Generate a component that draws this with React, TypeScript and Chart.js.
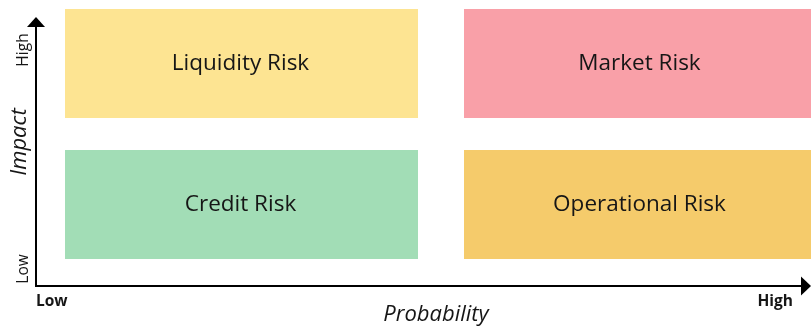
import React, { useEffect, useRef } from "react";
import { Chart, registerables } from "chart.js";

Chart.register(...registerables);

// Risk matrix: each risk sits in one probability/impact quadrant
const probabilityLevels = ["Low", "High"];
const impactLevels = ["Low", "High"];
const riskNames = ["Liquidity Risk", "Market Risk", "Credit Risk", "Operational Risk"];
const riskProbability = ["Low", "High", "Low", "High"];
const riskImpact = ["High", "High", "Low", "Low"];
const riskColors = ["#FDE492", "#F9A0A8", "#A2DDB6", "#F5CB6B"];

const TEXT = "#161616";
const FONT = '"Open Sans", "DejaVu Sans", sans-serif';

const quadrantDecor = {
  id: "quadrantDecor",
  afterDatasetsDraw(chart: any) {
    const { ctx, chartArea } = chart;
    ctx.save();

    // risk names centred in their boxes
    ctx.fillStyle = TEXT;
    ctx.font = `22.5px ${FONT}`;
    ctx.textAlign = "center";
    ctx.textBaseline = "alphabetic";
    chart.data.datasets.forEach((ds: any, i: number) => {
      const bar = chart.getDatasetMeta(i).data[0];
      if (!bar) return;
      const { x, y, base } = bar.getProps(["x", "y", "base"], true);
      ctx.fillText(ds.label, x - 1, (y + base) / 2 + 6);
    });

    // axes with arrow heads
    const ox = chartArea.left - 6;
    const oy = chartArea.bottom + 11;
    const topY = chartArea.top + 24;
    const rightX = chartArea.right - 29;

    ctx.strokeStyle = "#000";
    ctx.fillStyle = "#000";
    ctx.lineWidth = 2;
    ctx.beginPath();
    ctx.moveTo(ox, oy + 1);
    ctx.lineTo(ox, topY + 8);
    ctx.moveTo(ox - 1, oy);
    ctx.lineTo(rightX - 8, oy);
    ctx.stroke();

    ctx.beginPath();
    ctx.moveTo(ox, topY);
    ctx.lineTo(ox - 9, topY + 10);
    ctx.lineTo(ox + 9, topY + 10);
    ctx.closePath();
    ctx.fill();

    ctx.beginPath();
    ctx.moveTo(rightX, oy);
    ctx.lineTo(rightX - 10, oy - 9.5);
    ctx.lineTo(rightX - 10, oy + 9.5);
    ctx.closePath();
    ctx.fill();

    // probability ticks
    ctx.fillStyle = TEXT;
    ctx.font = `bold 15.5px ${FONT}`;
    ctx.textBaseline = "middle";
    ctx.textAlign = "left";
    ctx.fillText(probabilityLevels[0], ox, oy + 15.5);
    ctx.textAlign = "right";
    ctx.fillText(probabilityLevels[1], rightX - 18, oy + 15.5);

    // probability title
    ctx.font = `italic 22px ${FONT}`;
    ctx.textAlign = "center";
    ctx.fillText("Probability", (chartArea.left + chartArea.right) / 2 - 5, oy + 29);

    // impact ticks and title, rotated
    const rotated = (text: string, x: number, y: number, font: string) => {
      ctx.save();
      ctx.translate(x, y);
      ctx.rotate(-Math.PI / 2);
      ctx.font = font;
      ctx.textAlign = "center";
      ctx.textBaseline = "middle";
      ctx.fillText(text, 0, 0);
      ctx.restore();
    };
    rotated(impactLevels[1], ox - 12, topY + 33, `15.5px ${FONT}`);
    rotated(impactLevels[0], ox - 12, oy - 17, `15.5px ${FONT}`);
    rotated("Impact", ox - 16, topY + 125, `italic 22px ${FONT}`);

    ctx.restore();
  },
};

export default function App() {
  const canvasRef = useRef<HTMLCanvasElement>(null);

  useEffect(() => {
    if (!canvasRef.current) return;
    const datasets = riskNames.map((name, i) => {
      const level = impactLevels.indexOf(riskImpact[i]);
      return {
        label: name,
        data: [{ x: riskProbability[i], y: [level, level + 1] }],
        backgroundColor: riskColors[i],
        borderColor: "#ffffff",
        borderWidth: { top: 16, bottom: 16, left: 0, right: 0 },
        borderSkipped: false,
        grouped: false,
        barPercentage: 0.8847,
        categoryPercentage: 1,
      };
    });

    const chart = new Chart(canvasRef.current, {
      type: "bar",
      data: { labels: probabilityLevels, datasets } as any,
      options: {
        animation: false,
        responsive: false,
        devicePixelRatio: 1,
        layout: { padding: { left: 42, right: 20, top: 13, bottom: 54 } },
        scales: {
          x: { type: "category", display: false, offset: true },
          y: { type: "linear", display: false, min: 0, max: impactLevels.length },
        },
        plugins: {
          legend: { display: false },
          tooltip: { enabled: false },
        },
      } as any,
      plugins: [quadrantDecor],
    });
    return () => chart.destroy();
  }, []);

  return (
    <div
      style={{
        position: "absolute",
        left: 0,
        top: 0,
        width: 811,
        height: 329,
        overflow: "hidden",
        background: "#ffffff",
      }}
    >
      <canvas
        ref={canvasRef}
        width={860}
        height={349}
        style={{ position: "absolute", left: 0, top: -20, width: 860, height: 349 }}
      />
    </div>
  );
}
